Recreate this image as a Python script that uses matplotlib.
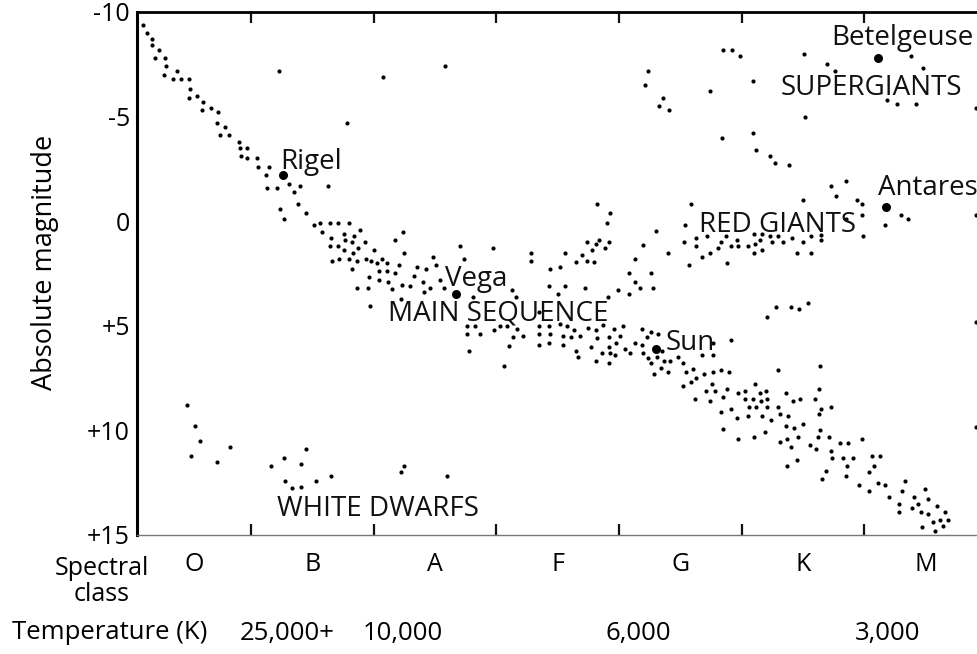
import matplotlib
matplotlib.use('Agg')
import matplotlib.pyplot as plt

plt.rcParams['font.family'] = ['Open Sans', 'DejaVu Sans']

# x = spectral position (0-10 O, 10-20 B, 20-30 A, 30-40 F, 40-50 G, 50-60 K, 60-70 M)
# y = absolute magnitude (axis inverted, bright stars on top)

main_seq_x = [
	1.2, 1.5, 1.9, 1.9, 2.5, 2.2, 3.0, 3.1, 2.9, 4.0,
	3.6, 4.3, 4.9, 5.0, 4.9, 5.6, 6.1, 6.0, 6.7, 7.3,
	7.2, 7.9, 7.5, 8.2, 9.0, 9.1, 9.7, 9.2, 9.7, 10.5,
	10.6, 11.5, 11.2, 13.1, 14.0, 13.5, 11.3, 12.1, 12.4, 13.8,
	12.7, 14.5, 15.1, 15.6, 16.4, 17.1, 18.0, 18.9, 15.8, 17.6,
	18.4, 16.5, 17.7, 18.2, 19.3, 18.7, 16.4, 17.1, 17.6, 18.3,
	20.0, 22.5, 22.4, 21.7, 16.6, 17.2, 18.0, 18.6, 19.4, 19.8,
	20.3, 20.7, 21.1, 22.1, 23.5, 18.2, 20.4, 21.1, 21.7,
	18.6, 19.5, 19.6, 20.4, 21.2, 21.5, 22.3, 23.0, 22.2, 19.7, 23.3,
	24.8, 25.1, 24.3, 27.0, 27.4, 29.7, 32.8, 32.8, 34.4, 35.2,
	24.0, 24.6, 25.4, 25.7, 24.1, 28.1, 31.3, 31.6, 34.3, 35.0,
	35.6, 37.2, 39.1, 39.9, 40.8, 41.7, 42.8, 41.3, 40.8, 42.6,
	33.5, 27.6, 28.3, 27.6, 28.7, 29.8, 30.3, 30.9, 31.7, 32.2,
	31.4, 31.0, 27.8, 30.6, 33.5, 34.3, 35.2, 35.8, 36.3, 33.5,
	34.4, 35.4, 36.1, 36.8, 33.5, 34.3, 35.4, 37.5, 38.1, 38.7,
	39.6, 40.3, 38.2, 39.2, 40.1, 37.7, 39.2, 39.8, 36.5, 36.7,
	38.6, 39.3, 39.7, 38.1, 39.2, 40.5, 40.9, 41.3, 41.9, 42.3,
	42.6, 43.2, 41.9, 42.0, 43.5, 42.4, 42.6, 43.1, 43.7, 44.2,
	44.8, 42.9, 43.4, 44.0, 45.2, 45.5, 46.0, 46.3, 45.9, 45.2,
	46.2,
	46.8, 47.7, 47.7, 49.1, 46.9, 47.7, 48.3, 49.0, 47.6, 47.1,
	47.8, 48.8, 48.5, 47.4, 49.7, 50.3, 51.1, 51.5, 52.0, 50.3,
	50.9, 51.6, 52.1, 50.6, 51.2, 52.1, 48.3, 49.1, 49.6, 50.5,
	51.7, 52.4, 48.5, 49.7, 51.0, 51.9, 53.0, 53.6, 54.2, 54.8,
	53.0, 53.1, 53.8, 53.6, 54.3, 55.0, 54.6, 53.1, 53.7, 54.0,
	53.7, 54.5, 56.4, 56.3, 56.0, 56.5, 57.3, 56.3, 56.4, 56.2,
	57.1, 55.6, 56.1, 57.3, 57.4, 58.0, 58.7, 58.3, 59.1, 58.6,
	59.8, 56.9, 56.6, 58.5, 60.6, 61.3, 60.8, 60.4, 59.6, 60.4,
	61.1, 61.7, 62.0, 63.1, 63.3, 62.8, 62.8, 63.9, 64.1, 65.0,
	64.4, 65.2, 64.6, 65.2, 65.9, 66.6, 66.2, 65.6, 66.8, 64.7,
	66.4, 65.8]
main_seq_y = [
	-9.4, -9.0, -8.7, -8.4, -8.2, -7.8, -7.8, -7.4, -7.0, -7.2,
	-6.8, -6.8, -6.8, -6.3, -5.9, -6.0, -5.7, -5.3, -5.4, -5.2,
	-4.7, -4.5, -4.1, -4.1, -3.8, -3.5, -3.5, -3.1, -3.0, -3.0,
	-2.6, -2.6, -2.2, -1.8, -1.7, -1.4, -1.6, -1.6, -0.6, -0.8,
	-0.1, -0.4, 0.2, 0.1, 0.1, 0.1, 0.1, 0.4, 0.5, 0.6,
	0.7, 0.8, 0.9, 1.0, 1.0, 1.3, 1.2, 1.2, 1.4, 1.5,
	1.4, 1.5, 0.5, 0.9, 1.9, 1.8, 1.8, 1.9, 1.8, 1.9,
	2.0, 1.8, 2.0, 2.1, 2.2, 2.3, 2.4, 2.4, 2.5,
	3.2, 3.2, 2.65, 2.8, 2.9, 3.25, 3.05, 3.1, 3.7, 4.05, 2.6,
	1.7, 2.1, 2.3, 1.2, 1.8, 1.3, 1.5, 1.9, 2.3, 2.2,
	2.9, 3.2, 2.8, 3.2, 3.4, 3.6, 3.3, 3.6, 3.1, 3.5,
	3.1, 3.2, 3.6, 3.3, 3.5, 3.2, 3.2, 2.9, 2.5, 2.5,
	4.35, 5.0, 5.0, 5.4, 5.4, 5.2, 5.0, 5.0, 5.15, 5.5,
	5.55, 5.95, 6.2, 6.9, 5.0, 5.0, 4.9, 5.0, 5.2, 5.4,
	5.4, 5.5, 5.55, 5.5, 5.9, 5.8, 5.9, 5.1, 5.2, 4.95,
	5.15, 5.0, 5.6, 5.55, 5.5, 6.0, 6.0, 5.8, 6.2, 6.5,
	6.3, 6.3, 6.4, 6.7, 6.8, 6.1, 6.3, 5.8, 5.15, 5.55,
	5.3, 5.4, 5.9, 6.3, 6.2, 6.55, 6.8, 6.5, 6.7, 6.7,
	6.5, 7.3, 7.0, 7.2, 6.8, 7.2, 7.05, 7.5, 7.7, 7.9,
	8.5,
	6.4, 6.4, 5.8, 5.7, 7.3, 7.2, 7.1, 7.2, 7.8, 8.1,
	8.1, 8.0, 8.4, 8.6, 8.2, 8.1, 7.8, 8.2, 8.1, 8.5,
	8.5, 8.6, 8.5, 8.9, 8.9, 8.9, 9.1, 9.0, 9.4, 9.3,
	9.3, 9.5, 9.95, 10.4, 10.3, 10.1, 7.1, 8.2, 8.6, 8.5,
	8.9, 9.2, 9.3, 9.8, 9.9, 9.7, 10.3, 10.55, 10.4, 10.8,
	11.7, 11.4, 6.9, 8.0, 8.5, 8.97, 8.9, 9.2, 9.96, 10.3,
	10.3, 10.7, 10.9, 11.0, 11.3, 10.6, 10.6, 11.3, 11.3, 11.7,
	10.4, 11.95, 12.3, 12.2, 11.2, 11.2, 11.7, 12.0, 12.6, 12.9,
	12.5, 12.6, 13.2, 12.9, 12.4, 13.5, 13.9, 13.7, 13.2, 12.8,
	13.5, 13.3, 13.9, 14.0, 13.6, 13.9, 14.3, 14.4, 14.3, 14.6,
	14.55, 14.8]

giants_x = [
	38.2, 39.3, 39.0, 38.4, 39.2, 38.9, 38.1, 37.4, 37.8, 37.0,
	37.4, 38.0, 36.5, 35.6,
	45.9, 45.4, 46.3, 45.3, 46.3, 43.0, 42.0, 44.0, 41.3, 45.7,
	46.8, 47.4, 48.1, 48.3, 48.7, 49.1, 49.6, 49.7, 50.5, 51.0,
	51.0, 51.1, 51.5, 51.7, 51.7, 52.3, 52.5, 53.0, 53.4, 54.1,
	54.5, 55.0, 55.7, 55.7, 56.5, 56.5, 47.2, 48.8,
	58.5, 57.3, 57.7, 55.0, 59.4, 59.8, 63.0, 63.6, 61.7, 69.1,
	58.5, 59.8, 59.9,
	52.8, 54.0, 54.7, 55.4, 52.1, 69.1, 69.1]
giants_y = [
	-0.8, -0.4, 0.1, 0.9, 1.0, 1.3, 1.1, 1.0, 1.4, 1.6,
	1.9, 1.95, 1.95, 1.5,
	-0.8, 0.2, 0.8, 1.0, 1.2, 0.45, 1.15, 1.5, 1.8, 2.1,
	1.7, 1.5, 1.3, 1.0, 0.7, 1.2, 0.9, 1.2, 1.2, 0.6,
	1.5, 1.1, 0.9, 1.4, 0.6, 0.7, 1.0, 0.7, 1.0, 0.8,
	1.5, 1.0, 0.7, 1.5, 0.9, 0.66, 0.7, 2.0,
	-1.9, -1.7, -1.2, -1.0, -1.0, -0.8, -0.3, -0.1, 0.2, -0.3,
	-0.1, -0.3, 0.7,
	4.1, 4.1, 4.2, 3.9, 4.6, 4.8, 9.85]

supergiants_x = [
	12.3, 20.8, 17.8, 16.3, 25.8, 42.4, 42.1, 43.6, 43.3, 44.1,
	48.5, 49.2, 49.9, 55.1, 57.0, 57.6, 63.8, 64.8, 50.9, 47.4,
	61.9, 62.7, 64.2, 69.1, 55.2, 48.4, 50.9, 51.2, 52.3, 52.7,
	53.9]
supergiants_y = [
	-7.2, -6.9, -4.7, -1.7, -7.4, -7.2, -6.5, -5.9, -5.5, -5.3,
	-8.2, -8.2, -7.9, -8.0, -7.5, -7.2, -7.9, -7.3, -6.7, -6.2,
	-5.8, -5.6, -5.6, -5.4, -5.0, -4.0, -4.2, -3.4, -3.1, -2.8,
	-2.7]

dwarfs_x = [4.8, 5.4, 5.8, 5.1, 7.2, 8.3, 11.6, 12.7, 14.5, 14.1,
	12.8, 13.3, 14.1, 15.3, 16.5, 22.2, 22.5, 26.0]
dwarfs_y = [8.8, 9.8, 10.5, 11.2, 11.5, 10.8, 11.7, 11.3, 10.9, 11.6,
	12.4, 12.75, 12.7, 12.4, 12.2, 12.0, 11.7, 12.2]

named = ['Rigel', 'Vega', 'Sun', 'Betelgeuse', 'Antares']
named_x = [12.6, 26.7, 43.0, 61.1, 61.8]
named_y = [-2.2, 3.5, 6.1, -7.8, -0.7]

class_edges = [10, 20, 30, 40, 50, 60]
class_centers = [5.35, 15, 25, 35, 45, 55, 65]
class_names = ['O', 'B', 'A', 'F', 'G', 'K', 'M']

mag_ticks = [-10, -5, 0, 5, 10, 15]
mag_labels = ['-10', '-5', '0', '+5', '+10', '+15']

temp_labels = ['25,000+', '10,000', '6,000', '3,000']
temp_x = [9.1, 19.1, 38.9, 59.2]


W, H = 977, 654
fig = plt.figure(figsize=(W / 100, H / 100), dpi=100)
fig.patch.set_facecolor('white')
ax = fig.add_axes([137 / W, 119 / H, 840 / W, 523 / H])

for xs, ys in [(main_seq_x, main_seq_y), (giants_x, giants_y),
		(supergiants_x, supergiants_y), (dwarfs_x, dwarfs_y)]:
	ax.scatter(xs, ys, s=9, c='black', linewidths=0, zorder=3)
ax.scatter(named_x, named_y, s=42, c='black', linewidths=0, zorder=4)

ax.set_xlim(0.7, 69.2)
ax.set_ylim(15, -10)

# labels next to stars and regions
txt = dict(fontsize=20, color='#111111', va='baseline', ha='left', zorder=5)
ax.text(12.4, -2.5, 'Rigel', **txt)
ax.text(25.8, 3.1, 'Vega', **txt)
ax.text(43.8, 6.16, 'Sun', **txt)
ax.text(57.3, -8.41, 'Betelgeuse', **txt)
ax.text(61.1, -1.24, 'Antares', **txt)
ax.text(53.2, -6.02, 'SUPERGIANTS', **txt)
ax.text(46.5, 0.5, 'RED GIANTS', **txt)
ax.text(21.2, 4.76, 'MAIN SEQUENCE', **txt)
ax.text(12.1, 14.08, 'WHITE DWARFS', **txt)

# spines
ax.spines['right'].set_visible(False)
ax.spines['left'].set_linewidth(2.2)
ax.spines['top'].set_linewidth(2.0)
ax.spines['bottom'].set_linewidth(1.0)
ax.spines['bottom'].set_color('#777777')

# class boundaries as inward ticks, class letters in between
ax.set_xticks(class_edges)
ax.set_xticklabels([])
ax.tick_params(axis='x', which='major', direction='in', length=8, width=1.6,
	top=True, bottom=True, color='#111111')
ax.set_xticks(class_centers, minor=True)
ax.set_xticklabels(class_names, minor=True)
ax.tick_params(axis='x', which='minor', length=0, pad=12, labelsize=18)

ax.set_yticks(mag_ticks)
ax.set_yticklabels(mag_labels)
ax.tick_params(axis='y', length=0, pad=5, labelsize=18)

fig.text(45 / W, 1 - 262 / H, 'Absolute magnitude', rotation=90,
	ha='center', va='center', fontsize=19.5)
fig.text(102 / W, 1 - 575 / H, 'Spectral', ha='center', va='baseline',
	fontsize=18)
fig.text(102 / W, 1 - 601 / H, 'class', ha='center', va='baseline',
	fontsize=18)
fig.text(12 / W, 1 - 639 / H, 'Temperature (K)', ha='left', va='baseline',
	fontsize=18.5)

for lab, xv in zip(temp_labels, temp_x):
	ax.text(xv, -0.2, lab, transform=ax.get_xaxis_transform(), ha='left',
		va='baseline', fontsize=18.5, clip_on=False)

fig.savefig('out.png', dpi=100)
